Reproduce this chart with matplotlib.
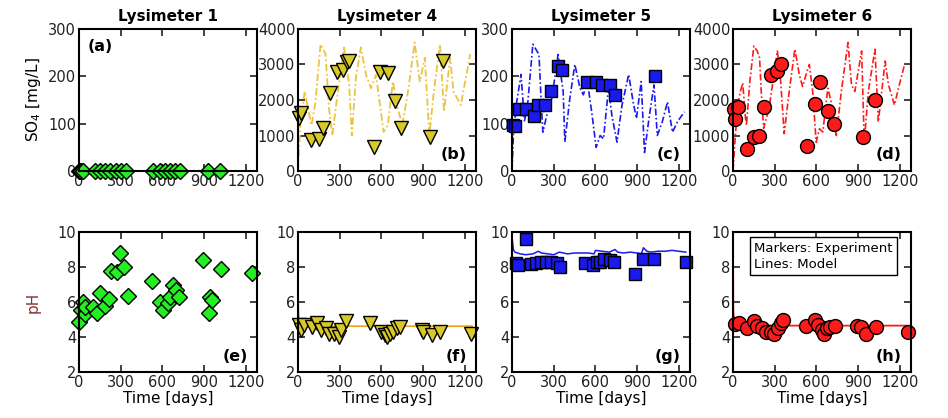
import matplotlib
matplotlib.use('Agg')
import matplotlib.pyplot as plt

plt.rcParams['font.family'] = 'DejaVu Sans'

# ---- sample days and measured values ----
so4_l1_days = [0, 5, 10, 17, 29, 113, 149, 185, 220, 268, 304, 340, 532, 580, 616, 652, 688, 724, 928, 1011]
so4_l1 = [0] * len(so4_l1_days)

so4_l4_days = [10, 25, 97, 150, 180, 230, 280, 323, 353, 365, 543, 590, 645, 700, 740, 951, 1044]
so4_l4 = [1500, 1620, 870, 915, 1200, 2190, 2800, 2850, 3060, 3090, 680, 2800, 2770, 1980, 1200, 960, 3090]

so4_l5_days = [10, 24, 48, 102, 155, 186, 235, 283, 331, 356, 542, 605, 646, 702, 743, 1028]
so4_l5 = [97, 95, 131, 131, 116, 139, 139, 170, 221, 214, 189, 189, 182, 181, 161, 201]

so4_l6_days = [10, 17, 34, 102, 150, 186, 223, 271, 319, 343, 530, 590, 629, 682, 726, 936, 1021]
so4_l6 = [1750, 1476, 1810, 620, 950, 1000, 1810, 2710, 2810, 3020, 695, 1900, 2500, 1695, 1314, 970, 2000]

ph_l1_days = [0, 17, 30, 40, 45, 100, 129, 148, 184, 219, 231, 272, 296, 322, 350, 525, 582, 601, 637, 654, 673, 697, 722, 889, 932, 944, 953, 1018, 1245]
ph_l1 = [4.85, 5.55, 6.0, 5.3, 5.7, 5.7, 5.4, 6.5, 5.75, 6.2, 7.75, 7.7, 8.8, 8.0, 6.35, 7.2, 6.0, 5.55, 5.95, 6.3, 6.95, 6.7, 6.3, 8.4, 5.4, 6.3, 6.1, 7.9, 7.65]

ph_l4_days = [7, 19, 44, 104, 140, 165, 200, 225, 261, 293, 310, 346, 515, 600, 624, 641, 660, 685, 709, 733, 890, 902, 963, 1023, 1241]
ph_l4 = [4.7, 4.4, 4.7, 4.6, 4.8, 4.4, 4.5, 4.2, 4.2, 4.0, 4.4, 4.9, 4.8, 4.3, 4.1, 4.0, 4.2, 4.3, 4.5, 4.55, 4.4, 4.3, 4.1, 4.3, 4.2]

ph_l5_days = [31, 43, 104, 140, 176, 212, 248, 284, 320, 345, 525, 586, 610, 634, 658, 706, 730, 887, 942, 1019, 1248]
ph_l5 = [8.23, 8.13, 9.6, 8.2, 8.23, 8.3, 8.3, 8.3, 8.23, 8.0, 8.23, 8.13, 8.3, 8.3, 8.45, 8.4, 8.3, 7.62, 8.45, 8.45, 8.3]

ph_l6_days = [17, 41, 102, 150, 175, 211, 236, 272, 296, 320, 345, 357, 527, 593, 613, 637, 656, 673, 697, 734, 892, 923, 957, 1025, 1256]
ph_l6 = [4.76, 4.8, 4.5, 4.9, 4.65, 4.5, 4.3, 4.3, 4.2, 4.5, 4.8, 5.0, 4.65, 5.0, 4.7, 4.4, 4.2, 4.5, 4.6, 4.65, 4.65, 4.55, 4.2, 4.55, 4.3]

# ---- model curves ----
mod_l4_days = [0, 17, 48, 77, 97, 126, 162, 198, 223, 247, 271, 331, 368, 387, 416, 452, 489, 525, 561, 615, 646, 682, 718, 750, 791, 839, 876, 912, 944, 977, 1021, 1050, 1094, 1118, 1171, 1202, 1239]
mod_l4 = [0, 1290, 2240, 1670, 1290, 1950, 3570, 3290, 1760, 1000, 1760, 3480, 2430, 1000, 2620, 3480, 2710, 2330, 2710, 1100, 1290, 2520, 1760, 1290, 2240, 3620, 2520, 3190, 1000, 2240, 3570, 1670, 3190, 2240, 1860, 2520, 3290]

mod_l5_days = [0, 10, 34, 65, 90, 114, 150, 194, 210, 222, 259, 283, 331, 368, 380, 416, 452, 489, 513, 542, 573, 605, 634, 658, 694, 718, 755, 791, 839, 871, 895, 929, 953, 985, 1021, 1045, 1081, 1118, 1154, 1190, 1239]
mod_l5 = [0, 75, 146, 204, 104, 146, 268, 246, 146, 82, 129, 146, 246, 168, 61, 154, 225, 175, 161, 189, 125, 50, 75, 68, 175, 118, 61, 139, 204, 146, 111, 189, 39, 111, 182, 75, 104, 146, 82, 104, 125]

mod_l6_days = [0, 17, 34, 53, 70, 90, 97, 121, 150, 174, 191, 203, 220, 259, 319, 343, 368, 404, 445, 477, 500, 525, 549, 573, 598, 622, 646, 682, 706, 743, 779, 827, 852, 876, 900, 925, 944, 973, 1021, 1045, 1094, 1118, 1161, 1202, 1234, 1251]
mod_l6 = [0, 1000, 1860, 2240, 2480, 1480, 1290, 2520, 3520, 3380, 3190, 2240, 1200, 1760, 3380, 2520, 1050, 2240, 3430, 2710, 2380, 2710, 3000, 2240, 810, 1190, 1100, 2330, 1950, 1000, 2240, 3620, 2430, 2240, 2800, 3380, 810, 2240, 3430, 1380, 3100, 2430, 1860, 2520, 3000, 3050]

mph_l4_days = [0, 5, 15, 30, 100, 300, 600, 900, 1250]
mph_l4 = [6.2, 5.2, 4.75, 4.65, 4.62, 4.62, 4.62, 4.62, 4.62]

mph_l5_days = [0, 10, 20, 40, 60, 100, 150, 190, 210, 260, 300, 340, 400, 450, 500, 550, 590, 600, 650, 700, 740, 760, 800, 850, 900, 930, 945, 970, 1000, 1050, 1100, 1150, 1200, 1250]
mph_l5 = [9.7, 9.0, 8.85, 8.8, 8.75, 8.7, 8.75, 8.9, 8.8, 8.75, 8.7, 8.85, 8.75, 8.8, 8.8, 8.8, 8.75, 8.95, 8.9, 8.85, 9.0, 8.85, 8.8, 8.85, 8.8, 8.75, 9.1, 8.9, 8.85, 8.9, 8.9, 8.95, 8.9, 8.85]

mph_l6_days = [0, 2, 10, 30, 300, 600, 900, 1250]
mph_l6 = [10.0, 5.5, 4.75, 4.68, 4.65, 4.65, 4.65, 4.65]

green = '#22ee22'
gold_fill = '#d8c828'
gold_line = '#ecc440'
gold_ph = '#f2a81c'
blue = '#1a1aee'
red = '#ff1a1a'

fig = plt.figure(figsize=(9.48, 4.18), dpi=100)
lefts = [79, 298, 512, 733]
W = 178 / 948
top_axes = [fig.add_axes([l / 948, (418 - 171) / 418, W, 142 / 418]) for l in lefts]
bot_axes = [fig.add_axes([l / 948, (418 - 372) / 418, W, 140 / 418]) for l in lefts]

mk = dict(markeredgecolor='black', markeredgewidth=1.0, linestyle='none')
dashdot = (0, (4, 1.5, 1, 1.5))

# top row: SO4
ax = top_axes[0]
ax.plot(so4_l1_days, so4_l1, 'D', markerfacecolor=green, markersize=8, **mk)
ax.set_ylim(0, 300)
ax.set_yticks([0, 100, 200, 300])

ax = top_axes[1]
ax.plot(mod_l4_days, mod_l4, linestyle=dashdot, color=gold_line, lw=1.3)
ax.plot(so4_l4_days, so4_l4, 'v', markerfacecolor=gold_fill, markersize=10, **mk)
ax.set_ylim(0, 4000)
ax.set_yticks([0, 1000, 2000, 3000, 4000])

ax = top_axes[2]
ax.plot(mod_l5_days, mod_l5, linestyle=dashdot, color=blue, lw=1.2)
ax.plot(so4_l5_days, so4_l5, 's', markerfacecolor=blue, markersize=8, **mk)
ax.set_ylim(0, 300)
ax.set_yticks([0, 100, 200, 300])

ax = top_axes[3]
ax.plot(mod_l6_days, mod_l6, linestyle=dashdot, color=red, lw=1.2)
ax.plot(so4_l6_days, so4_l6, 'o', markerfacecolor=red, markersize=10, **mk)
ax.set_ylim(0, 4000)
ax.set_yticks([0, 1000, 2000, 3000, 4000])

# bottom row: pH
ax = bot_axes[0]
ax.plot(ph_l1_days, ph_l1, 'D', markerfacecolor=green, markersize=8, **mk)

ax = bot_axes[1]
ax.plot(mph_l4_days, mph_l4, '-', color=gold_ph, lw=1.3)
ax.plot(ph_l4_days, ph_l4, 'v', markerfacecolor=gold_fill, markersize=10, **mk)

ax = bot_axes[2]
ax.plot(mph_l5_days, mph_l5, '-', color=blue, lw=1.1)
ax.plot(ph_l5_days, ph_l5, 's', markerfacecolor=blue, markersize=8, **mk)

ax = bot_axes[3]
ax.plot(mph_l6_days, mph_l6, '-', color=red, lw=1.3)
ax.plot(ph_l6_days, ph_l6, 'o', markerfacecolor=red, markersize=10, **mk)
ax.text(0.12, 0.93, 'Markers: Experiment\nLines: Model', transform=ax.transAxes,
        ha='left', va='top', fontsize=9.5, linespacing=1.3, multialignment='left',
        bbox=dict(boxstyle='square,pad=0.35', facecolor='white', edgecolor='black', lw=1))

for ax in bot_axes:
    ax.set_ylim(2, 10)
    ax.set_yticks([2, 4, 6, 8, 10])
    ax.set_xlabel('Time [days]', fontsize=11, labelpad=1)

for ax in top_axes + bot_axes:
    ax.set_xlim(0, 1280)
    ax.set_xticks([0, 300, 600, 900, 1200])
    ax.tick_params(direction='in', top=True, right=True, labelsize=10.5,
                   length=5, width=1.2, pad=2, colors='#222222')
    for s in ax.spines.values():
        s.set_linewidth(1.5)
    for ln in ax.lines:
        ln.set_clip_on(False)

titles = ['Lysimeter 1', 'Lysimeter 4', 'Lysimeter 5', 'Lysimeter 6']
for ax, t in zip(top_axes, titles):
    ax.set_title(t, fontsize=11, fontweight='bold', pad=6)

top_axes[0].set_ylabel('SO$_4$ [mg/L]', fontsize=11, labelpad=4)
bot_axes[0].set_ylabel('pH', fontsize=11, labelpad=12, color='#8a3030')

letters = ['(a)', '(b)', '(c)', '(d)', '(e)', '(f)', '(g)', '(h)']
for i, ax in enumerate(top_axes + bot_axes):
    if i == 0:
        ax.text(0.05, 0.93, letters[i], transform=ax.transAxes, ha='left', va='top',
                fontsize=11.5, fontweight='bold')
    else:
        ax.text(0.95, 0.06, letters[i], transform=ax.transAxes, ha='right', va='bottom',
                fontsize=11.5, fontweight='bold')

fig.savefig('out.png', dpi=100)
